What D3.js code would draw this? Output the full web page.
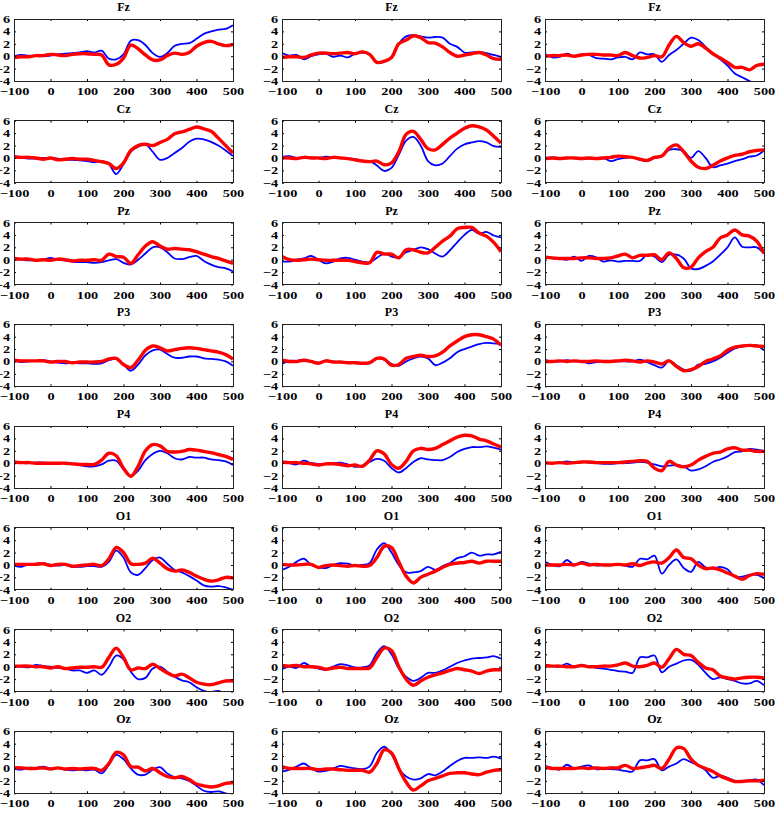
<!DOCTYPE html>
<html><head><meta charset="utf-8">
<script src="https://cdn.jsdelivr.net/npm/d3@7"></script>
<style>body{margin:0;background:#fff} svg{display:block}</style>
</head><body>
<svg id="c" width="778" height="814"></svg>
<script>
const times = [-100,-80,-60,-40,-20,0,20,40,60,80,100,120,140,160,180,200,220,240,260,280,300,320,340,360,380,400,420,440,460,480,500];
const channels = ["Fz","Cz","Pz","P3","P4","O1","O2","Oz"];
const xTicks = [-100,0,100,200,300,400,500];
const yTicks = [-4,-2,0,2,4,6];

const fzBlue = [
 [0,0.2,0.1,0,0,0.1,0.3,0.4,0.5,0.6,0.8,0.6,0.9,-0.4,-0.5,0.3,2.5,2.6,1.8,0.5,-0.1,0.5,1.7,2.0,2.1,2.8,3.6,4.0,4.3,4.4,5.0],
 [0.5,0.1,0.2,-0.5,0,0.3,0.4,-0.1,0.1,-0.2,0.4,0.6,0.3,-1.0,-0.9,-0.3,2.0,3.2,3.4,3.2,3.0,3.1,3.0,2.0,1.5,0.6,0.6,0.7,0.5,0.2,-0.1],
 [0.4,-0.2,-0.1,0.4,0,0.3,0.2,-0.3,-0.4,-0.5,-0.2,-0.1,-0.5,0.6,0.3,0.3,-0.9,0.2,1.0,2.0,3.0,2.6,1.5,0.4,-0.5,-1.5,-2.8,-3.4,-4.0,-4.6,-5.0]];
const fzRed = [
 [-0.2,-0.1,-0.1,0.1,0.1,0.3,0.2,0.1,0.3,0.4,0.4,0.3,0.2,-1.4,-1.3,-0.3,1.8,1.2,0.2,-0.6,-0.6,0.1,0.5,0.3,0.6,1.6,2.2,2.4,2.0,1.7,1.9],
 [-0.2,-0.1,-0.1,-0.2,0.2,0.5,0.5,0.4,0.5,0.6,0.4,0.7,0.3,-1.0,-0.8,-0.2,2.0,2.6,3.3,3.0,2.2,2.1,1.5,0.6,0.0,0.2,0.4,0.6,0.2,-0.4,-0.5],
 [0,0.1,0.1,0.2,0,0.2,0.3,0.3,0.2,0.2,0.1,0.6,0.1,-0.3,-0.2,0.1,-0.1,1.8,3.2,2.2,1.6,2.0,1.3,0.4,-0.3,-1.0,-1.8,-1.8,-2.2,-1.5,-1.3]];
const czBlue = [
 [0.1,0,-0.1,-0.1,0,0,-0.1,-0.3,-0.3,-0.4,-0.5,-0.7,-0.5,-1.0,-2.6,-1.0,1.0,1.8,2.2,1.0,-0.3,0,0.8,1.6,2.6,3.1,3.0,2.6,2.0,1.2,0.3],
 [0.2,0.3,0,0,0.1,0,0.2,0.1,0,-0.1,-0.2,-0.5,-0.5,-1.2,-2.1,-1.6,0.5,2.8,3.4,2.0,-0.5,-1.2,-0.9,0.3,1.5,2.2,2.5,2.7,2.5,1.9,1.8],
 [0,0.1,0,0,0,0,-0.1,0,0,-0.5,-0.2,0,0.1,-0.3,-0.5,0,0.3,1.3,1.4,1.1,0,1.1,0,-1.5,-1.2,-0.9,-0.5,-0.2,0.2,0.4,1.2]];
const czRed = [
 [0.2,0.1,0.1,0,-0.2,0,-0.3,-0.2,-0.1,-0.2,-0.2,-0.4,-0.6,-0.9,-1.7,-0.8,1.2,2.0,2.2,2.0,2.5,3.0,3.9,4.2,4.6,5.0,4.7,4.3,3.2,2.0,0.8],
 [0,0,-0.1,0.1,0,0,-0.1,0.1,0,-0.1,-0.3,-0.5,-0.6,-0.5,-1.1,-0.8,1.0,3.8,4.3,3.0,1.5,1.3,2.2,3.2,4.0,4.8,5.2,5.0,4.5,3.5,2.4],
 [-0.1,0,-0.1,0,0,-0.1,0,-0.1,0,0.1,0.3,0.2,0.1,-0.2,-0.4,0.1,0.3,1.6,2.1,1.0,-0.5,-1.5,-1.7,-1.2,-0.5,0,0.4,0.6,1.0,1.2,1.3]];
const pzBlue = [
 [0,0,-0.1,-0.1,0,0.3,0,-0.1,-0.3,-0.4,-0.4,-0.5,-0.4,-0.1,0.1,-0.5,-0.8,0,1.0,2.0,2.0,1.2,0.2,0.1,0.4,0.6,-0.2,-0.8,-1.2,-1.4,-1.9],
 [-0.3,-0.3,0,0.2,0.6,0,-0.6,-0.3,0.2,0.3,0,-0.3,-0.4,0.3,1.0,0.5,0.4,1.2,1.6,2.0,1.7,1.0,0.5,1.5,2.8,4.0,4.8,4.2,4.5,3.9,3.6],
 [0.5,0.2,0.2,0,0.5,-0.2,0.6,0.4,-0.3,-0.1,-0.3,-0.2,-0.2,-0.2,0.8,0.5,-0.4,0.8,0.8,0.2,-1.4,-1.5,-1.0,-0.3,0.8,2.0,3.6,2.1,2.0,2.0,1.0]];
const pzRed = [
 [0.2,0.1,0.1,-0.1,0,-0.1,0.1,0,-0.2,-0.1,-0.1,0,-0.1,0.9,0.5,0.4,-0.6,0.8,2.2,2.9,2.2,1.7,1.8,1.7,1.6,1.3,0.9,0.5,0.2,-0.2,-0.6],
 [0.5,0,-0.1,0,0.1,0,-0.1,-0.1,-0.1,-0.1,-0.3,-0.5,-0.5,1.2,0.9,0.9,0.3,1.6,1.6,1.2,1.1,2.0,3.0,3.8,5.0,5.2,5.2,4.3,3.8,2.8,1.3],
 [0.4,0.3,0.2,0.2,0.2,0.3,0.3,0.2,0.2,0.3,0.6,0.9,0.3,0.7,0.7,0.8,0,1.1,0.2,-1.3,-1.2,0.3,1.3,2.0,3.5,4.0,4.8,4.0,3.8,3.0,1.0]];
const p3Blue = [
 [0.1,-0.1,0,0.1,0.2,0,-0.2,-0.3,-0.2,-0.3,-0.3,-0.4,-0.3,0.2,0.4,-0.5,-1.5,-0.5,1.0,1.8,1.9,1.2,0.6,0.6,0.8,0.8,0.5,0.4,0.3,0,-0.7],
 [-0.4,0.1,0.1,0.3,0,-0.2,0.1,0,-0.1,-0.1,-0.2,-0.3,-0.3,0.5,0.3,-0.4,-0.7,0,0.5,0.8,0.5,-0.6,-0.2,0.5,1.5,2.0,2.4,2.8,3.0,2.9,2.8],
 [0.3,-0.1,0,0.2,0,0.1,-0.3,-0.1,0,0,0,0,0,0.3,-0.1,-0.6,-1.0,0.1,-0.6,-1.3,-1.5,-0.5,-0.4,0,0.6,1.4,2.1,2.4,2.6,2.6,1.8]];
const p3Red = [
 [0.2,0.1,0.1,0.1,0.1,-0.1,0,0,-0.2,-0.1,-0.1,-0.1,0,0.4,0.5,-0.5,-1.0,0.2,1.8,2.5,2.2,1.7,1.9,2.1,2.2,2.1,1.9,1.7,1.5,1.1,0.4],
 [0.2,0,0,0.2,0,-0.3,0.1,-0.1,-0.1,-0.2,-0.2,-0.3,-0.2,0.5,0.4,-0.6,-0.5,0.5,0.8,1.0,0.8,0.9,1.5,2.5,3.3,4.0,4.3,4.3,4.0,3.6,2.6],
 [0,0,0.1,0,0.1,0,0,0.1,0,0,0.1,0.2,0.1,-0.1,0.1,-0.1,-0.4,0.1,-0.8,-1.5,-1.3,-0.8,0,0.4,0.9,1.8,2.3,2.5,2.6,2.5,2.4]];
const p4Blue = [
 [0,0,0,0.1,0.1,0,0,0,-0.1,-0.3,-0.5,-0.5,-0.2,0.4,0.4,-1.0,-2.1,-1.2,0.5,1.5,2.0,1.6,0.8,0.6,1.0,0.9,0.9,0.6,0.5,0.3,-0.3],
 [0.1,0,-0.2,0.4,0,-0.1,-0.1,0,0.1,-0.2,-0.6,-0.4,0.2,0.7,0.4,-0.8,-1.5,-0.8,0.2,0.8,0.6,0.5,0.5,1.0,1.8,2.3,2.6,2.6,2.7,2.5,2.2],
 [0,0,0.1,0.3,0.1,0.2,0.1,0,-0.1,-0.1,0,0,0.1,0.2,0.1,-0.2,-0.5,-0.4,-0.3,-0.5,-1.2,-1.0,-0.5,0.2,0.6,1.1,1.8,1.9,2.3,2.2,2.0]];
const p4Red = [
 [0.2,0.1,0.1,0,0,0,0,0,-0.1,-0.2,-0.2,-0.2,0.5,1.6,1.2,-0.8,-2.1,-0.5,2.0,3.0,2.8,1.9,1.8,1.9,2.2,2.1,1.9,1.7,1.4,1.1,0.6],
 [0.2,0.1,0.1,0,-0.1,-0.3,-0.1,-0.1,-0.2,-0.4,-0.3,-0.5,0.5,2.0,1.5,-0.2,-0.8,0.3,2.0,2.4,2.2,2.4,3.0,3.6,4.2,4.5,4.4,3.9,3.6,3.1,2.6],
 [0.1,0,0.1,0,0.1,0.2,0.2,0.1,0.1,0.1,0.1,0.2,0.3,0.4,0.3,-0.8,-1.2,0.3,-0.3,-0.6,-0.3,0.5,1.1,1.6,1.8,2.3,2.5,2.1,2.1,1.9,1.9]];
const o1Blue = [
 [-0.1,-0.3,0.1,0.2,0.3,0,-0.1,0,-0.3,-0.3,-0.2,-0.2,-0.3,0.5,2.3,1.2,-1.2,-1.6,-0.5,0.8,1.2,0.2,-0.8,-1.2,-1.8,-2.5,-3.3,-3.5,-3.4,-3.6,-4.0],
 [-0.8,-0.3,0.5,1.0,0,-0.4,-0.5,0,0.3,0.2,-0.1,0,0.3,2.5,3.5,2.0,0,-1.2,-1.2,-1.0,-0.3,-0.8,-0.2,0.3,1.1,1.4,2.0,1.5,1.7,1.7,2.1],
 [0.5,0,-0.2,0.8,0,0.5,0.2,-0.1,0,0,0,-0.1,-0.3,1.0,0.9,1.5,-1.4,0,0.9,-0.5,-1.1,0.5,-0.4,-0.6,-0.3,-0.7,-1.9,-1.9,-1.6,-1.6,-2.1]];
const o1Red = [
 [0.1,0.1,0.1,0.1,0.2,-0.1,0.1,0.1,-0.2,-0.1,0,0.1,-0.1,1.0,2.8,2.0,0.2,0.1,0.3,1.1,0.3,-0.6,-1.0,-0.8,-1.2,-1.8,-2.3,-2.6,-2.4,-2.0,-2.1],
 [0.1,0,0,0.1,0.1,-0.4,-0.1,0,-0.1,-0.2,-0.1,-0.2,-0.1,1.2,3.0,2.8,0.5,-1.8,-2.9,-2.0,-1.5,-1.0,-0.4,0.1,0.3,0.4,0.6,0.3,0.6,0.6,0.6],
 [0,0,0,0.1,0,0.3,0,0.1,0,0,0.1,0,0.2,-0.1,0.3,0.5,0.3,1.2,2.4,1.2,1.0,0,-0.6,-0.5,-0.8,-1.3,-1.8,-2.3,-1.7,-1.4,-1.5]];
const o2Blue = [
 [0,0,-0.1,0.3,0.1,0,-0.2,-0.3,-0.6,-0.6,-1.0,-0.6,-1.3,0,1.8,1.2,-0.8,-2.0,-1.8,-0.3,0,-0.8,-1.6,-2.2,-2.5,-3.3,-3.9,-4.1,-3.9,-4.4,-4.5],
 [-0.4,0,-0.2,0.6,0,-0.3,-0.5,0,0.4,0.2,-0.1,-0.1,0.2,2.2,3.3,2.0,-0.3,-1.6,-2.3,-1.8,-1.0,-1.0,-0.6,0,0.6,1.0,1.3,1.4,1.5,1.7,1.3],
 [0.3,0.1,0,0.5,0,0.2,0.1,-0.2,-0.3,-0.5,-0.7,-0.8,-1.0,1.5,1.5,1.8,-0.9,0,0.5,1.0,1.1,0.3,-1.0,-2.0,-1.7,-2.0,-2.3,-2.7,-2.7,-2.3,-3.0]];
const o2Red = [
 [0.1,0.1,0.1,0,0,-0.2,0,-0.3,-0.2,-0.1,-0.1,0,-0.1,1.5,3.0,1.5,-0.5,-0.2,-0.3,0.4,-0.3,-1.0,-1.5,-1.2,-1.8,-2.5,-2.8,-2.9,-2.6,-2.3,-2.3],
 [0.2,0.1,0.2,0,0,-0.1,-0.4,-0.2,-0.1,-0.3,-0.3,-0.3,-0.2,1.5,3.0,2.6,0,-2.0,-3.0,-2.3,-1.7,-1.3,-1.0,-0.6,-0.3,-0.5,-0.7,-1.1,-0.7,-0.5,-0.5],
 [0.2,0.1,0.1,0,0,0.2,0,0,0.1,0.1,0.3,0.6,0.1,0,0.2,0.6,-0.1,1.3,2.8,2.0,1.8,0.7,-0.2,-0.5,-1.5,-1.8,-2.0,-1.8,-1.7,-1.7,-1.8]];
const ozBlue = [
 [0,-0.2,0.1,0.1,0.3,0,0.1,-0.2,-0.3,-0.2,-0.3,-0.2,-0.8,0.6,2.2,1.5,0,-1.0,-1.0,-0.2,0.2,-0.8,-1.4,-1.6,-2.0,-2.8,-3.6,-3.8,-3.7,-4.0,-4.3],
 [-0.5,-0.2,0.3,0.8,0,-0.5,-0.4,0,0.4,0.2,0,-0.1,0.3,2.5,3.5,2.3,0,-1.3,-1.8,-1.6,-0.9,-1.1,-0.5,0.4,1.2,1.7,1.7,1.8,1.7,1.9,1.6],
 [0.4,0.1,-0.2,0.6,0,0.3,0.5,-0.1,-0.1,-0.1,-0.2,-0.4,-0.5,1.3,1.3,1.5,-0.3,0.3,0.8,1.5,1.0,0.5,-0.3,-1.5,-1.2,-1.5,-2.0,-2.0,-1.9,-1.8,-2.7]];
const ozRed = [
 [0.1,0.1,0,0,0.1,-0.1,0.1,-0.1,0,-0.1,0,0,-0.3,0.8,2.6,2.2,0.3,0.2,-0.4,0,-0.7,-1.3,-1.5,-1.3,-1.8,-2.5,-2.8,-3.0,-2.8,-2.4,-2.3],
 [0.3,0,0,0,0,-0.2,-0.1,-0.1,-0.2,-0.3,-0.3,-0.3,-0.6,0.8,3.0,2.5,0,-2.2,-3.5,-2.8,-2.0,-1.6,-1.2,-0.8,-0.7,-0.7,-0.9,-1.0,-0.6,-0.3,-0.2],
 [0.2,0,0,0,0,0.1,0,0.1,0,0.1,0.1,0.5,0,0.1,0.3,0.5,0,1.5,3.3,3.2,1.5,0.5,0,-0.5,-1.2,-1.7,-2.1,-2.1,-2.0,-2.0,-1.9]];

const blueByChannel = [fzBlue, czBlue, pzBlue, p3Blue, p4Blue, o1Blue, o2Blue, ozBlue];
const redByChannel = [fzRed, czRed, pzRed, p3Red, p4Red, o1Red, o2Red, ozRed];

const svg = d3.select("#c");
const colLeft = [14, 282, 545], plotW = 219, rowH = 101.75, top0 = 19, plotH = 62;
const x = d3.scaleLinear().domain([-100, 500]).range([0, plotW]);
const y = d3.scaleLinear().domain([-4, 6]).range([plotH, 0]);
const line = d3.line().x((d, i) => x(times[i])).y(d => y(d)).curve(d3.curveCatmullRom.alpha(0.5));
const FONT = "'Liberation Serif','Times New Roman',serif";
const SX = 1.3;

channels.forEach((ch, r) => {
  for (let c = 0; c < 3; c++) {
    const g = svg.append("g").attr("transform", `translate(${colLeft[c]},${top0 + r * rowH})`);
    const id = `clip-${r}-${c}`;
    g.append("clipPath").attr("id", id).append("rect").attr("width", plotW).attr("height", plotH);
    const lines = g.append("g").attr("clip-path", `url(#${id})`);
    lines.append("path").attr("d", line(blueByChannel[r][c])).attr("fill", "none")
      .attr("stroke", "#0000ff").attr("stroke-width", 1.8).attr("stroke-linejoin", "round");
    lines.append("path").attr("d", line(redByChannel[r][c])).attr("fill", "none")
      .attr("stroke", "#ff0000").attr("stroke-width", 3.4).attr("stroke-linejoin", "round");

    const xa = g.append("g").attr("transform", `translate(0,${plotH})`)
      .call(d3.axisBottom(x).tickValues(xTicks).tickSizeInner(-2).tickSizeOuter(0).tickPadding(6));
    const ya = g.append("g")
      .call(d3.axisLeft(y).tickValues(yTicks).tickSizeInner(-2).tickSizeOuter(0).tickPadding(3));
    g.append("g").call(d3.axisTop(x).tickValues(xTicks).tickSizeInner(-2).tickSizeOuter(0).tickFormat(""));
    g.append("g").attr("transform", `translate(${plotW},0)`)
      .call(d3.axisRight(y).tickValues(yTicks).tickSizeInner(-2).tickSizeOuter(0).tickFormat(""));
    g.selectAll(".domain").remove();
    g.selectAll(".tick line").attr("stroke", "#000");
    [xa, ya].forEach(a => a.selectAll("text")
      .attr("font-family", FONT).attr("font-weight", "bold").attr("font-size", 11)
      .attr("fill", "#000").attr("transform", `scale(${SX},1)`));
    xa.selectAll("text").attr("dy", "0.75em");

    g.append("rect").attr("width", plotW).attr("height", plotH)
      .attr("fill", "none").attr("stroke", "#222").attr("stroke-width", 1).attr("shape-rendering", "crispEdges");

    g.append("text").attr("x", plotW / 2).attr("y", -12).attr("dy", "0.35em")
      .attr("text-anchor", "middle").attr("font-family", FONT).attr("font-weight", "bold")
      .attr("font-size", 12).attr("fill", "#000").text(ch);
  }
});
</script>
</body></html>
